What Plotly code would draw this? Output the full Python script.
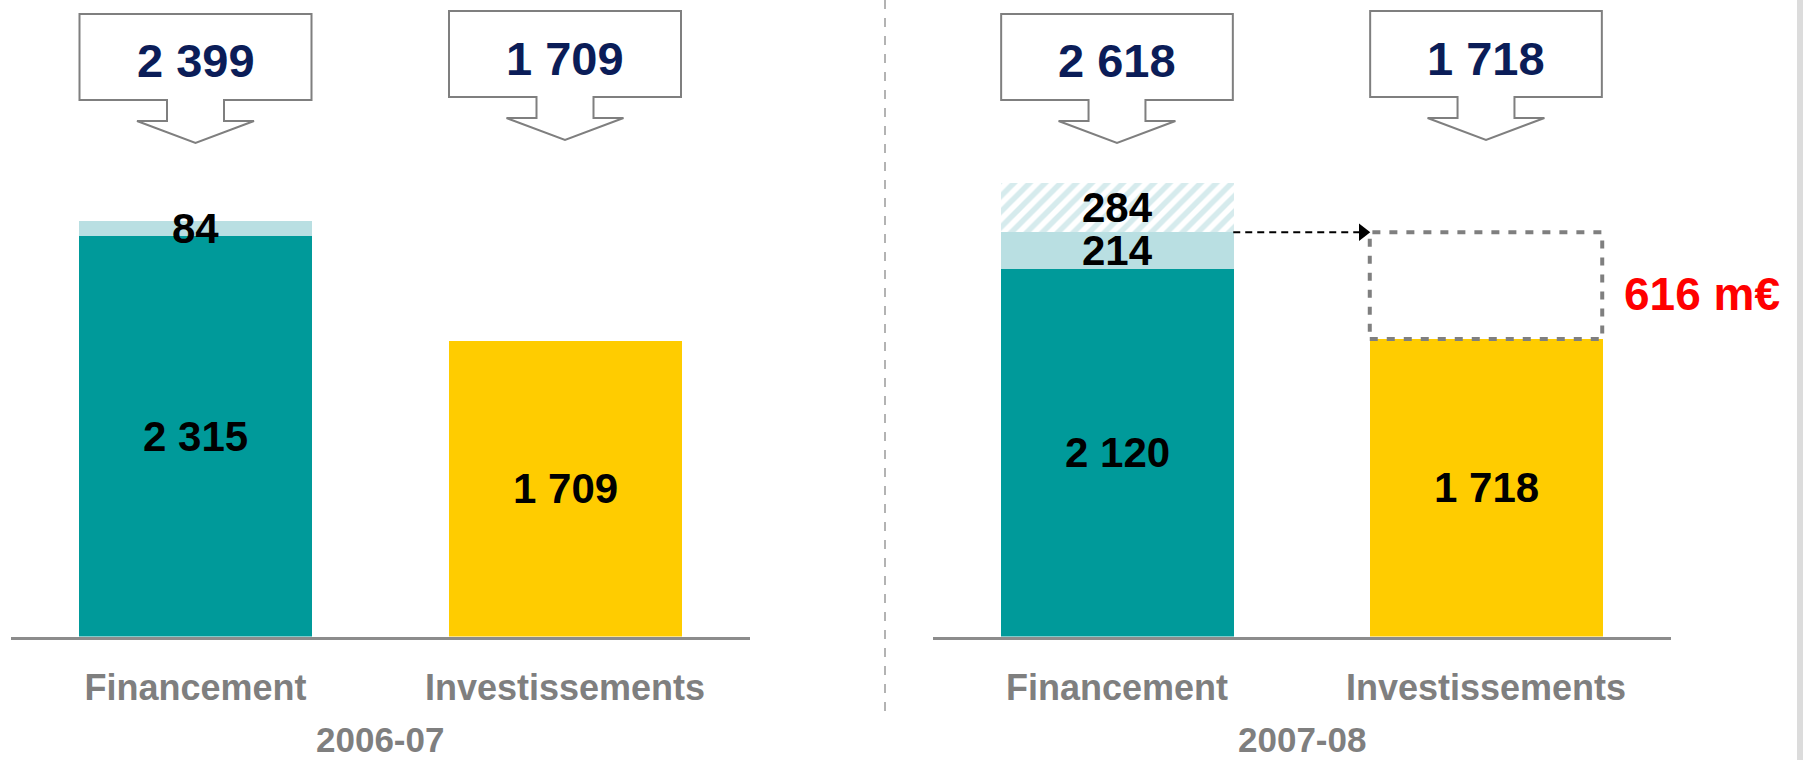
import plotly.graph_objects as go

# ---- data -------------------------------------------------------------
periods = ["2006-07", "2007-08"]
categories = ["Financement", "Investissements"]
financement_base = [2315, 2120]
financement_extra = [84, 214]
financement_hatched = [0, 284]
investissements = [1709, 1718]

# ---- styling ----------------------------------------------------------
W, H = 1805, 760
TEAL = "#009A9A"
LIGHT = "#B9DFE2"
HATCH = "#ADD8DC"
YELLOW = "#FFCC00"
NAVY = "#0B1D58"
GRAY = "#7F7F7F"
RED = "#FF0000"
FONT = "Liberation Sans, Arial, sans-serif"

BAR_W = 0.63          # bar width in axis units
Y_MAX = 3675          # value range of both panels
Y_DOMAIN = [0.1625, 1.0]
X_DOMAINS = [[10.75 / W, 749.75 / W], [932.5 / W, 1670.5 / W]]
PX_PER_UNIT_X = 369.5  # pixels per category step


def fmt(v):
    return f"{v:,}".replace(",", " ")


def py(pixel_y):
    """Pixel row -> paper fraction."""
    return 1 - pixel_y / H


fig = go.Figure()
annotations = []
shapes = []

for i, period in enumerate(periods):
    xa = "x" if i == 0 else "x2"
    ya = "y" if i == 0 else "y2"
    common = dict(width=BAR_W, xaxis=xa, yaxis=ya, hoverinfo="skip", showlegend=False)

    base, extra, hatch, inv = (financement_base[i], financement_extra[i],
                               financement_hatched[i], investissements[i])

    fig.add_bar(x=[0], y=[base], marker=dict(color=TEAL, line_width=0), **common)
    fig.add_bar(x=[0], y=[extra], marker=dict(color=LIGHT, line_width=0), **common)
    if hatch:
        fig.add_bar(x=[0], y=[hatch], **common,
                    marker=dict(color="white", line_width=0,
                                pattern=dict(shape="/", fgcolor=HATCH, bgcolor="white",
                                             size=11, solidity=0.5)))
    fig.add_bar(x=[1], y=[inv], marker=dict(color=YELLOW, line_width=0), **common)

    # value labels inside the bars
    seg_labels = [(0, base / 2, base), (0, base + extra / 2, extra), (1, inv / 2, inv)]
    if hatch:
        seg_labels.append((0, base + extra + hatch / 2, hatch))
    for x, y, v in seg_labels:
        annotations.append(dict(x=x, y=y, xref=xa, yref=ya, text=f"<b>{fmt(v)}</b>",
                                yanchor="middle", showarrow=False,
                                font=dict(family=FONT, size=42, color="black")))

    # totals in arrow call-outs above each column
    totals = [base + extra + hatch, inv]
    tops = [14, 11]
    for x, total, top in zip([0, 1], totals, tops):
        bw = 116 / PX_PER_UNIT_X
        sw = 28.5 / PX_PER_UNIT_X
        ww = 58.5 / PX_PER_UNIT_X
        b_bot, s_bot, tip = top + 86, top + 107, top + 129
        path = (f"M {x - bw},{py(top)} L {x + bw},{py(top)} L {x + bw},{py(b_bot)} "
                f"L {x + sw},{py(b_bot)} L {x + sw},{py(s_bot)} L {x + ww},{py(s_bot)} "
                f"L {x},{py(tip)} L {x - ww},{py(s_bot)} L {x - sw},{py(s_bot)} "
                f"L {x - sw},{py(b_bot)} L {x - bw},{py(b_bot)} Z")
        shapes.append(dict(type="path", path=path, xref=xa, yref="paper",
                           line=dict(color=GRAY, width=2), fillcolor="white"))
        annotations.append(dict(x=x, y=py(top + 47), xref=xa, yref="paper",
                                yanchor="middle", text=f"<b>{fmt(total)}</b>", showarrow=False,
                                font=dict(family=FONT, size=47, color=NAVY)))

    # period label under each panel
    annotations.append(dict(x=0.5, y=py(739), xref=xa, yref="paper", yanchor="middle",
                            text=f"<b>{period}</b>", showarrow=False,
                            font=dict(family=FONT, size=35, color=GRAY)))

# ---- funding gap in the latest period ---------------------------------
last = len(periods) - 1
funded = financement_base[last] + financement_extra[last]
gap = funded - investissements[last]
half = BAR_W / 2

shapes.append(dict(type="rect", xref="x2", yref="y2",
                   x0=1 - half, x1=1 + half, y0=investissements[last], y1=funded,
                   line=dict(color=GRAY, width=4, dash="8px,9px"), fillcolor="rgba(0,0,0,0)"))

arrow_len = 7 / PX_PER_UNIT_X
fig.add_scatter(x=[half, 1 - half - arrow_len], y=[funded, funded], xaxis="x2", yaxis="y2",
                mode="lines", line=dict(color="black", width=2, dash="7px,5px"),
                hoverinfo="skip", showlegend=False)
fig.add_scatter(x=[1 - half - arrow_len], y=[funded], xaxis="x2", yaxis="y2",
                mode="markers", marker=dict(symbol="triangle-right", size=15, color="black"),
                hoverinfo="skip", showlegend=False)

annotations.append(dict(x=1 + half + 20 / PX_PER_UNIT_X, y=(funded + investissements[last]) / 2,
                        xref="x2", yref="y2", xanchor="left", yanchor="middle", yshift=-8,
                        text=f"<b>{gap} m€</b>", showarrow=False,
                        font=dict(family=FONT, size=46, color=RED)))

# ---- separators and page edge -----------------------------------------
shapes.append(dict(type="line", xref="paper", yref="paper", x0=885 / W, x1=885 / W,
                   y0=1, y1=py(714), line=dict(color="#9A9A9A", width=1.5, dash="dash")))
shapes.append(dict(type="rect", xref="paper", yref="paper", x0=1797 / W, x1=1803 / W,
                   y0=0, y1=1, line_width=0, fillcolor="#DCDCDC", layer="below"))

axis_common = dict(range=[-0.5, 1.5], tickvals=[0, 1], ticktext=[f"<b>{c}</b>" for c in categories],
                   showline=True, linecolor="#8C8C8C", linewidth=3, showgrid=False,
                   zeroline=False, ticks="outside", ticklen=17, tickcolor="rgba(0,0,0,0)",
                   tickfont=dict(family=FONT, size=36, color=GRAY), fixedrange=True)
yaxis_common = dict(range=[0, Y_MAX], domain=Y_DOMAIN, visible=False, fixedrange=True)

fig.update_layout(
    width=W, height=H, margin=dict(l=0, r=0, t=0, b=0),
    paper_bgcolor="white", plot_bgcolor="white",
    barmode="stack", bargap=0, showlegend=False,
    xaxis=dict(domain=X_DOMAINS[0], anchor="y", **axis_common),
    xaxis2=dict(domain=X_DOMAINS[1], anchor="y2", **axis_common),
    yaxis=dict(anchor="x", **yaxis_common),
    yaxis2=dict(anchor="x2", **yaxis_common),
    shapes=shapes, annotations=annotations,
)

fig.write_html("out.html")
